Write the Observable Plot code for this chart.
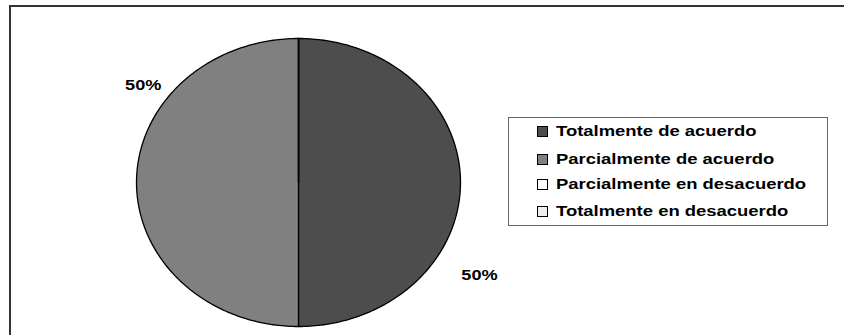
<!DOCTYPE html>
<html>
<head>
<meta charset="utf-8">
<script src="https://cdn.jsdelivr.net/npm/d3@7"></script>
<script src="https://cdn.jsdelivr.net/npm/@observablehq/plot@0.6"></script>
<style>
  html, body { margin: 0; padding: 0; background: #fff; }
  #wrap { position: relative; width: 844px; height: 335px; overflow: hidden; font-family: "Liberation Sans", Arial, sans-serif; }
  #frame { position: absolute; left: 9px; top: 5px; width: 900px; height: 400px; border-left: 2px solid #333; border-top: 2px solid #333; }
  #chart { position: absolute; left: 0; top: 0; }
  #legend { position: absolute; left: 508px; top: 117px; width: 320px; height: 109px; border: 1px solid #666; background: #fff; box-sizing: border-box; }
  .item { position: absolute; left: 28px; height: 16px; display: flex; align-items: center; }
  .sw { width: 9px; height: 9px; border: 1px solid #000; margin-right: 8px; flex: none; }
  .lab { display: inline-block; font-weight: bold; font-size: 14.3px; color: #000; transform: scaleX(1.29); transform-origin: left center; white-space: nowrap; }
</style>
</head>
<body>
<div id="wrap">
  <div id="frame"></div>
  <div id="chart"></div>
  <div id="legend"></div>
</div>
<script>
// Data
const categories = ["Totalmente de acuerdo", "Parcialmente de acuerdo", "Parcialmente en desacuerdo", "Totalmente en desacuerdo"];
const values = [50, 50, 0, 0];
const colors = ["#4d4d4d", "#808080", "#ffffff", "#eeeeee"];
const percentLabels = ["50%", "50%", "", ""];

// Layout (label placement as angle in degrees clockwise from 12 o'clock, radius factor)
const labelPlacement = [[120, 1.29], [305, 1.17], null, null];

const pie = d3.pie().sort(null).value(d => d)(values);

const marks = [];
pie.forEach((arc, i) => {
  const pts = [{x: 0, y: 0}];
  const n = Math.max(2, Math.ceil((arc.endAngle - arc.startAngle) / (Math.PI / 180)));
  for (let k = 0; k <= n; k++) {
    const a = arc.startAngle + (arc.endAngle - arc.startAngle) * k / n;
    pts.push({x: Math.sin(a), y: Math.cos(a)});
  }
  pts.push({x: 0, y: 0});
  marks.push(Plot.line(pts, {x: "x", y: "y", fill: colors[i], stroke: "#000", strokeWidth: 1.3, strokeLinejoin: "round"}));
});

const labelData = pie.map((arc, i) => {
  if (!labelPlacement[i] || !percentLabels[i]) return null;
  const [deg, r] = labelPlacement[i];
  const a = deg * Math.PI / 180;
  return {x: r * Math.sin(a), y: r * Math.cos(a), text: percentLabels[i]};
}).filter(Boolean);

marks.push(Plot.text(labelData, {x: "x", y: "y", text: "text", fontSize: 14.3, fontWeight: "bold", fill: "#000", fontFamily: "Liberation Sans, Arial, sans-serif"}));

const svg = Plot.plot({
  width: 844,
  height: 335,
  margin: 0,
  x: {domain: [-1, 1], range: [136, 460], axis: null},
  y: {domain: [-1, 1], range: [326, 38], axis: null},
  style: {background: "transparent", overflow: "visible"},
  marks
});
document.getElementById("chart").appendChild(svg);

// widen label glyphs to match reference
svg.querySelectorAll("text").forEach(t => {
  const w = t.getComputedTextLength();
  if (w > 0) { t.setAttribute("textLength", w * 1.27); t.setAttribute("lengthAdjust", "spacingAndGlyphs"); }
});

// Legend
const legend = document.getElementById("legend");
const rowTops = [5, 33, 58, 85];
categories.forEach((c, i) => {
  const it = document.createElement("div");
  it.className = "item";
  it.style.top = rowTops[i] + "px";
  const sw = document.createElement("span");
  sw.className = "sw";
  sw.style.background = colors[i];
  const lab = document.createElement("span");
  lab.className = "lab";
  lab.textContent = c;
  it.appendChild(sw); it.appendChild(lab);
  legend.appendChild(it);
});
</script>
</body>
</html>
